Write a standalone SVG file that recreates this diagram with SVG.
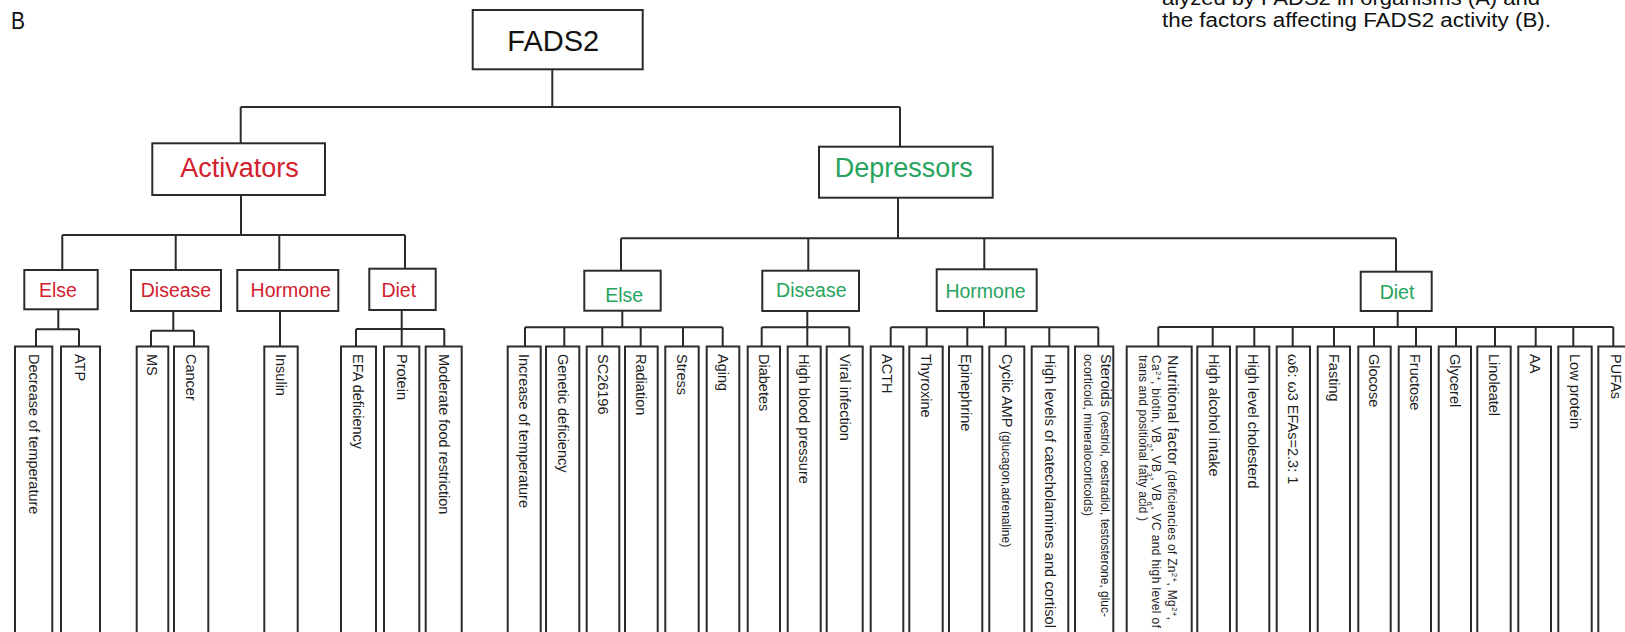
<svg xmlns="http://www.w3.org/2000/svg" width="1625" height="632" viewBox="0 0 1625 632">
<style>
.box{fill:#fff;stroke:#2b2b2b;stroke-width:2}
.ln{stroke:#2b2b2b;stroke-width:2;fill:none}
.cap{font-family:"Liberation Sans",Arial,sans-serif;fill:#111}
.t1{font-family:"Liberation Sans",Arial,sans-serif;font-size:29px;fill:#111;text-anchor:middle}
.t2{font-family:"Liberation Sans",Arial,sans-serif;font-size:27px;text-anchor:middle}
.t3{font-family:"Liberation Sans",Arial,sans-serif;font-size:19.5px;text-anchor:middle}
.red{fill:#d3202e}
.green{fill:#27a35e}
.leaf{font-family:"Liberation Sans",Arial,sans-serif;font-size:14.5px;fill:#1e1e1e}
.sm{font-size:12px}
.sup{font-size:8px}
</style>
<rect width="1625" height="632" fill="#fff"/>
<text class="cap" x="11" y="29" font-size="24" textLength="14" lengthAdjust="spacingAndGlyphs">B</text>
<text class="cap" x="1162" y="4.5" font-size="20" textLength="378" lengthAdjust="spacingAndGlyphs">alyzed by FADS2 in organisms (A) and</text>
<text class="cap" x="1162" y="27.3" font-size="20" textLength="389" lengthAdjust="spacingAndGlyphs">the factors affecting FADS2 activity (B).</text>

<g id="connectors">
<path class="ln" d="M552.3 69.3V107M240.7 107H900M240.7 107V143.3M900 107V146.7"/>
<path class="ln" d="M241 195V235M62.3 235H405M62.3 235V270M175.7 235V270M279.3 235V270M405 235V268.7"/>
<path class="ln" d="M898 197.7V238.3M621 238.3H1396M621 238.3V270.7M808.3 238.3V270.7M984.3 238.3V269.3M1396 238.3V271.7"/>
<path class="ln" d="M58.3 309.3V329.3M36 329.3H79M36 329.3V346.5M79 329.3V346.5"/>
<path class="ln" d="M173.3 311V330.7M151 330.7H194M151 330.7V346.5M194 330.7V346.5"/>
<path class="ln" d="M280 311V346.5"/>
<path class="ln" d="M401.7 310V346.5M356 329H444.3M356 329V346.5M444.3 329V346.5"/>
<path class="ln" d="M622.3 310.7V327.3M525 327.3H722.7M525 327.3V346.5M564.3 327.3V346.5M602.3 327.3V346.5M640.7 327.3V346.5M683 327.3V346.5M722.7 327.3V346.5"/>
<path class="ln" d="M807.3 311V346.5M761.7 327.3H849.3M761.7 327.3V346.5M849.3 327.3V346.5"/>
<path class="ln" d="M984 311V327.3M890.7 327.3H1098.3M890.7 327.3V346.5M926.7 327.3V346.5M967.3 327.3V346.5M1005.7 327.3V346.5M1049.3 327.3V346.5M1098.3 327.3V346.5"/>
<path class="ln" d="M1397.7 311V327M1158.3 327H1613.3M1158.3 327V346.5M1212.7 327V346.5M1254.3 327V346.5M1292.7 327V346.5M1334 327V346.5M1374 327V346.5M1416 327V346.5M1456 327V346.5M1495 327V346.5M1535.7 327V346.5M1573.3 327V346.5M1613.3 327V346.5"/>
</g>

<g id="fads2"><rect class="box" x="472.7" y="10" width="170" height="59.3"/><text class="t1" x="553.3" y="50.7">FADS2</text></g>
<g id="activators"><rect class="box" x="152.3" y="143.3" width="172.7" height="51.7"/><text class="t2 red" x="239.5" y="176.7">Activators</text></g>
<g id="depressors"><rect class="box" x="819" y="146.7" width="173.7" height="51"/><text class="t2 green" x="903.7" y="176.7">Depressors</text></g>

<g id="act-else"><rect class="box" x="24.3" y="270" width="73.4" height="39.3"/><text class="t3 red" x="58" y="297.3">Else</text></g>
<g id="act-disease"><rect class="box" x="131" y="270" width="90" height="41"/><text class="t3 red" x="176" y="297.3">Disease</text></g>
<g id="act-hormone"><rect class="box" x="237.3" y="270" width="101" height="41"/><text class="t3 red" x="290.7" y="297.3">Hormone</text></g>
<g id="act-diet"><rect class="box" x="369.3" y="268.7" width="66.4" height="41.3"/><text class="t3 red" x="398.8" y="297.3">Diet</text></g>

<g id="dep-else"><rect class="box" x="584.3" y="270.7" width="76.4" height="40"/><text class="t3 green" x="624.2" y="301.7">Else</text></g>
<g id="dep-disease"><rect class="box" x="762.3" y="270.7" width="96.7" height="40.3"/><text class="t3 green" x="811.3" y="297.3">Disease</text></g>
<g id="dep-hormone"><rect class="box" x="936.7" y="269.3" width="100" height="41.7"/><text class="t3 green" x="985.5" y="297.5">Hormone</text></g>
<g id="dep-diet"><rect class="box" x="1360.7" y="271.7" width="71" height="39.3"/><text class="t3 green" x="1397" y="299.3">Diet</text></g>

<g id="leaf-decrease-temp"><rect class="box" x="15" y="346.5" width="37.3" height="320"/><text class="leaf" transform="translate(28.8,354) rotate(90)">Decrease of temperature</text></g>
<g id="leaf-atp"><rect class="box" x="61" y="346.5" width="39" height="320"/><text class="leaf" transform="translate(74.5,354) rotate(90)">ATP</text></g>
<g id="leaf-ms"><rect class="box" x="136.7" y="346.5" width="31.6" height="320"/><text class="leaf" transform="translate(147.3,354) rotate(90)">MS</text></g>
<g id="leaf-cancer"><rect class="box" x="174" y="346.5" width="34.3" height="320"/><text class="leaf" transform="translate(186,354) rotate(90)">Cancer</text></g>
<g id="leaf-insulin"><rect class="box" x="264.3" y="346.5" width="33.4" height="320"/><text class="leaf" transform="translate(275.8,354) rotate(90)">Insulin</text></g>
<g id="leaf-efa"><rect class="box" x="341" y="346.5" width="35" height="320"/><text class="leaf" transform="translate(353.3,354) rotate(90)">EFA deficiency</text></g>
<g id="leaf-protein"><rect class="box" x="384" y="346.5" width="35.3" height="320"/><text class="leaf" transform="translate(396.5,354) rotate(90)">Protein</text></g>
<g id="leaf-moderate"><rect class="box" x="425.7" y="346.5" width="36" height="320"/><text class="leaf" transform="translate(438.5,354) rotate(90)">Moderate food restriction</text></g>

<g id="leaf-increase-temp"><rect class="box" x="507.7" y="346.5" width="33" height="320"/><text class="leaf" transform="translate(519,354) rotate(90)">Increase of temperature</text></g>
<g id="leaf-genetic"><rect class="box" x="546" y="346.5" width="33.3" height="320"/><text class="leaf" transform="translate(557.5,354) rotate(90)">Genetic deficiency</text></g>
<g id="leaf-sc26196"><rect class="box" x="586.7" y="346.5" width="32.6" height="320"/><text class="leaf" transform="translate(597.8,354) rotate(90)">SC26196</text></g>
<g id="leaf-radiation"><rect class="box" x="625" y="346.5" width="32.7" height="320"/><text class="leaf" transform="translate(636.1,354) rotate(90)">Radiation</text></g>
<g id="leaf-stress"><rect class="box" x="665.3" y="346.5" width="33.4" height="320"/><text class="leaf" transform="translate(676.8,354) rotate(90)">Stress</text></g>
<g id="leaf-aging"><rect class="box" x="706.7" y="346.5" width="32.6" height="320"/><text class="leaf" transform="translate(717.8,354) rotate(90)">Aging</text></g>
<g id="leaf-diabetes"><rect class="box" x="747.7" y="346.5" width="32.3" height="320"/><text class="leaf" transform="translate(758.6,354) rotate(90)">Diabetes</text></g>
<g id="leaf-hbp"><rect class="box" x="787.7" y="346.5" width="33" height="320"/><text class="leaf" transform="translate(799,354) rotate(90)">High blood pressure</text></g>
<g id="leaf-viral"><rect class="box" x="826.7" y="346.5" width="36" height="320"/><text class="leaf" transform="translate(839.5,354) rotate(90)">Viral infection</text></g>
<g id="leaf-acth"><rect class="box" x="870.7" y="346.5" width="32.6" height="320"/><text class="leaf" transform="translate(881.8,354) rotate(90)">ACTH</text></g>
<g id="leaf-thyroxine"><rect class="box" x="909.3" y="346.5" width="33.4" height="320"/><text class="leaf" transform="translate(920.8,354) rotate(90)">Thyroxine</text></g>
<g id="leaf-epinephrine"><rect class="box" x="949" y="346.5" width="33.3" height="320"/><text class="leaf" transform="translate(960.5,354) rotate(90)">Epinephrine</text></g>
<g id="leaf-camp"><rect class="box" x="989.3" y="346.5" width="35" height="320"/><text class="leaf" transform="translate(1001.6,354) rotate(90)">Cyclic AMP <tspan class="sm">(glucagon,adrenaline)</tspan></text></g>
<g id="leaf-catecholamines"><rect class="box" x="1031.7" y="346.5" width="36.6" height="320"/><text class="leaf" transform="translate(1044.8,354) rotate(90)" textLength="274">High levels of catecholamines and cortisol</text></g>
<g id="leaf-steroids"><rect class="box" x="1075" y="346.5" width="38.3" height="320"/>
<text class="leaf" transform="translate(1100.6,354) rotate(90)" textLength="263">Steroids <tspan class="sm">(oestriol, oestradiol, testosterone, gluc-</tspan></text>
<text class="leaf sm" transform="translate(1084.3,354) rotate(90)" textLength="162">ocorticoid, mineralocorticoids)</text></g>
<g id="leaf-nutritional"><rect class="box" x="1126.7" y="346.5" width="65" height="320"/>
<text class="leaf" transform="translate(1167.5,355) rotate(90)" textLength="265">Nutritional factor <tspan class="sm">(deficiencies of Zn</tspan><tspan class="sup" baseline-shift="super">2+</tspan><tspan class="sm">, Mg</tspan><tspan class="sup" baseline-shift="super">2+</tspan><tspan class="sm">,</tspan></text>
<text class="leaf sm" transform="translate(1152,355) rotate(90)" textLength="273">Ca<tspan class="sup" baseline-shift="super">2+</tspan>, biotin, VB<tspan class="sup" baseline-shift="sub">2</tspan>, VB<tspan class="sup" baseline-shift="sub">3</tspan>, VB<tspan class="sup" baseline-shift="sub">6</tspan>, VC and high level of</text>
<text class="leaf sm" transform="translate(1139,355) rotate(90)" textLength="166">trans and positional fatty acid )</text></g>
<g id="leaf-alcohol"><rect class="box" x="1197.3" y="346.5" width="32.7" height="320"/><text class="leaf" transform="translate(1208.5,354) rotate(90)">High alcohol intake</text></g>
<g id="leaf-cholesterd"><rect class="box" x="1236.7" y="346.5" width="32.6" height="320"/><text class="leaf" transform="translate(1247.8,354) rotate(90)">High level cholesterd</text></g>
<g id="leaf-ratio"><rect class="box" x="1276.7" y="346.5" width="33.3" height="320"/><text class="leaf" transform="translate(1288.1,354) rotate(90)">ω6: ω3 EFAs=2.3: 1</text></g>
<g id="leaf-fasting"><rect class="box" x="1317.7" y="346.5" width="32.3" height="320"/><text class="leaf" transform="translate(1328.6,354) rotate(90)">Fasting</text></g>
<g id="leaf-glocose"><rect class="box" x="1358.3" y="346.5" width="32.4" height="320"/><text class="leaf" transform="translate(1369.3,354) rotate(90)">Glocose</text></g>
<g id="leaf-fructose"><rect class="box" x="1398.7" y="346.5" width="32.3" height="320"/><text class="leaf" transform="translate(1409.6,354) rotate(90)">Fructose</text></g>
<g id="leaf-glycerel"><rect class="box" x="1438.7" y="346.5" width="32.3" height="320"/><text class="leaf" transform="translate(1449.6,354) rotate(90)">Glycerel</text></g>
<g id="leaf-linoleatel"><rect class="box" x="1477.3" y="346.5" width="33.4" height="320"/><text class="leaf" transform="translate(1488.8,354) rotate(90)">Linoleatel</text></g>
<g id="leaf-aa"><rect class="box" x="1518.3" y="346.5" width="32.7" height="320"/><text class="leaf" transform="translate(1529.5,354) rotate(90)">AA</text></g>
<g id="leaf-low-protein"><rect class="box" x="1558.3" y="346.5" width="33.4" height="320"/><text class="leaf" transform="translate(1569.8,354) rotate(90)">Low protein</text></g>
<g id="leaf-pufas"><rect class="box" x="1598.3" y="346.5" width="34" height="320"/><text class="leaf" transform="translate(1611,354) rotate(90)">PUFAs</text></g>
</svg>
